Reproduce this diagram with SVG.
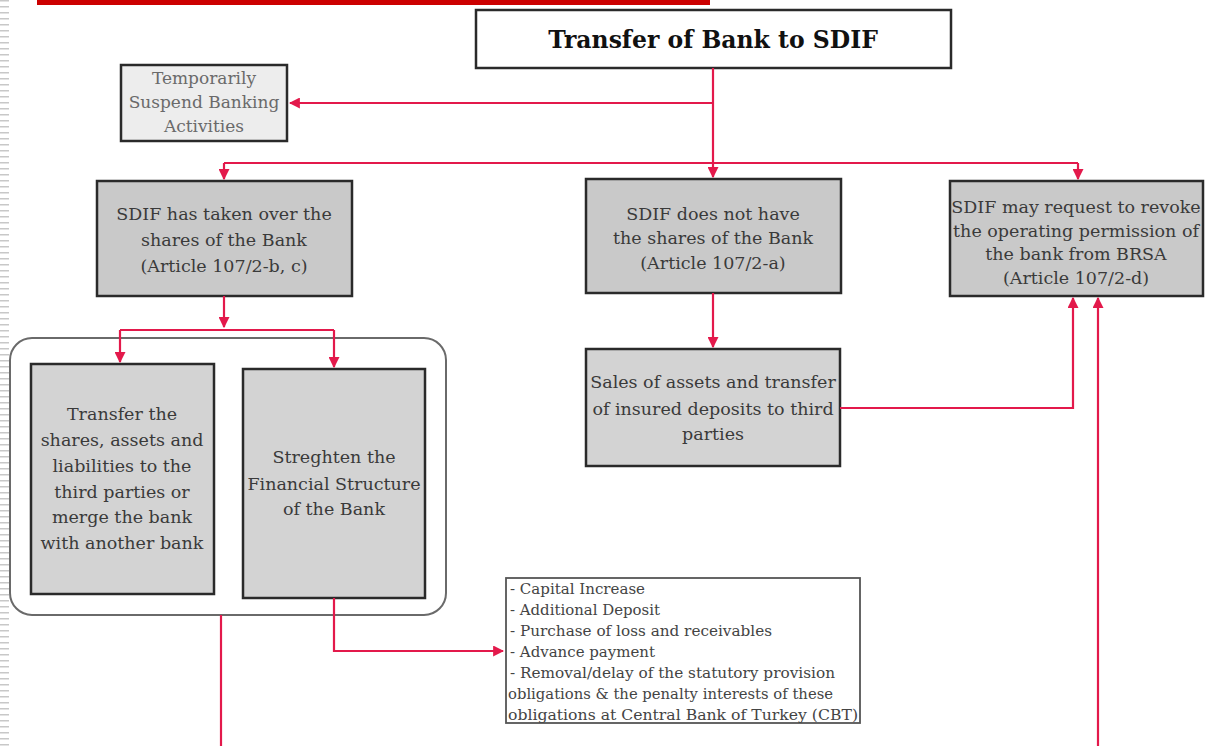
<svg xmlns="http://www.w3.org/2000/svg" width="1221" height="746" viewBox="0 0 1221 746">
<defs>
<pattern id="stripes" x="0" y="0" width="9" height="6" patternUnits="userSpaceOnUse">
<rect x="0" y="0" width="9" height="1.5" fill="#c8c8c8"/>
</pattern>
<marker id="arr" viewBox="0 0 10 10" refX="9" refY="5" markerWidth="5" markerHeight="5" orient="auto-start-reverse" markerUnits="strokeWidth">
<path d="M0,0 L10,5 L0,10 z" fill="#e3194b"/>
</marker>
<style>
.box{stroke:#2a2a2a;stroke-width:2.5}
.dark{fill:#c9c9c9}
.mid{fill:#d3d3d3}
.light{fill:#ededed}
.t{font-family:"DejaVu Serif","Liberation Serif",serif;font-size:17.5px;fill:#3a3a3a;text-anchor:middle}
.tg{font-family:"DejaVu Serif","Liberation Serif",serif;font-size:17px;fill:#6a6a6a;text-anchor:middle}
.list{font-family:"DejaVu Serif","Liberation Serif",serif;font-size:14px;fill:#444}
.c{fill:none;stroke:#e3194b;stroke-width:2.2}
</style>
</defs>
<rect width="1221" height="746" fill="#ffffff"/>
<rect x="0" y="0" width="9" height="746" fill="url(#stripes)"/>
<rect x="37" y="0" width="673" height="5" fill="#cc0000"/>

<g id="title">
<rect x="476" y="10" width="475" height="58" fill="#ffffff" class="box"/>
<text x="713" y="48" style="font-family:'DejaVu Serif','Liberation Serif',serif;font-weight:bold;font-size:23.5px;fill:#111;text-anchor:middle">Transfer of Bank to SDIF</text>
</g>

<g id="suspend">
<rect x="121" y="65" width="166" height="76" class="box light"/>
<text class="tg" x="204" y="84">Temporarily</text>
<text class="tg" x="204" y="108">Suspend Banking</text>
<text class="tg" x="204" y="132">Activities</text>
</g>

<g id="taken-over">
<rect x="97" y="181" width="255" height="115" class="box dark"/>
<text class="t" x="224" y="220">SDIF has taken over the</text>
<text class="t" x="224" y="246">shares of the Bank</text>
<text class="t" x="224" y="272">(Article 107/2-b, c)</text>
</g>

<g id="not-have">
<rect x="586" y="179" width="255" height="114" class="box dark"/>
<text class="t" x="713" y="220">SDIF  does not have</text>
<text class="t" x="713" y="244">the  shares of the Bank</text>
<text class="t" x="713" y="269">(Article 107/2-a)</text>
</g>

<g id="revoke">
<rect x="950" y="181" width="253" height="115" class="box dark"/>
<text class="t" x="1076" y="213">SDIF may request  to revoke</text>
<text class="t" x="1076" y="237">the operating  permission of</text>
<text class="t" x="1076" y="260">the bank from BRSA</text>
<text class="t" x="1076" y="284">(Article 107/2-d)</text>
</g>

<g id="group-container">
<rect x="10" y="338" width="436" height="277" rx="22" fill="#ffffff" stroke="#6a6a6a" stroke-width="2"/>
</g>

<g id="transfer-shares">
<rect x="31" y="364" width="183" height="230" class="box mid"/>
<text class="t" x="122" y="420">Transfer the</text>
<text class="t" x="122" y="446">shares, assets and</text>
<text class="t" x="122" y="472">liabilities to the</text>
<text class="t" x="122" y="498">third parties or</text>
<text class="t" x="122" y="523">merge the bank</text>
<text class="t" x="122" y="549">with another bank</text>
</g>

<g id="strengthen">
<rect x="243" y="369" width="182" height="229" class="box mid"/>
<text class="t" x="334" y="463">Streghten the</text>
<text class="t" x="334" y="490">Financial Structure</text>
<text class="t" x="334" y="515">of the Bank</text>
</g>

<g id="sales">
<rect x="586" y="349" width="254" height="117" class="box mid"/>
<text class="t" x="713" y="388">Sales of assets and transfer</text>
<text class="t" x="713" y="415">of insured deposits to third</text>
<text class="t" x="713" y="440">parties</text>
</g>

<g id="measures">
<rect x="506" y="578" width="354" height="145" fill="#ffffff" stroke="#555" stroke-width="1.8"/>
<text class="list" x="510" y="594" textLength="135" lengthAdjust="spacingAndGlyphs">- Capital Increase</text>
<text class="list" x="510" y="615" textLength="150" lengthAdjust="spacingAndGlyphs">- Additional Deposit</text>
<text class="list" x="510" y="636" textLength="262" lengthAdjust="spacingAndGlyphs">- Purchase of  loss and receivables</text>
<text class="list" x="510" y="657" textLength="145" lengthAdjust="spacingAndGlyphs">- Advance payment</text>
<text class="list" x="510" y="678" textLength="325" lengthAdjust="spacingAndGlyphs">- Removal/delay of the statutory  provision</text>
<text class="list" x="508" y="699" textLength="325" lengthAdjust="spacingAndGlyphs">obligations &amp; the penalty interests of these</text>
<text class="list" x="508" y="720" textLength="350" lengthAdjust="spacingAndGlyphs">obligations at Central Bank of Turkey (CBT)</text>
</g>

<g id="connectors">
<path class="c" d="M713,68 V177" marker-end="url(#arr)"/>
<path class="c" d="M713,103 H290" marker-end="url(#arr)"/>
<path class="c" d="M224,163 H1078"/>
<path class="c" d="M224,163 V179" marker-end="url(#arr)"/>
<path class="c" d="M1078,163 V179" marker-end="url(#arr)"/>
<path class="c" d="M224,296 V327" marker-end="url(#arr)"/>
<path class="c" d="M120,330 H334"/>
<path class="c" d="M120,330 V362" marker-end="url(#arr)"/>
<path class="c" d="M334,330 V367" marker-end="url(#arr)"/>
<path class="c" d="M713,293 V347" marker-end="url(#arr)"/>
<path class="c" d="M840,408 H1073 V298" marker-end="url(#arr)"/>
<path class="c" d="M1098,746 V298" marker-end="url(#arr)"/>
<path class="c" d="M334,598 V651 H503" marker-end="url(#arr)"/>
<path class="c" d="M221,615 V746"/>
</g>
</svg>
